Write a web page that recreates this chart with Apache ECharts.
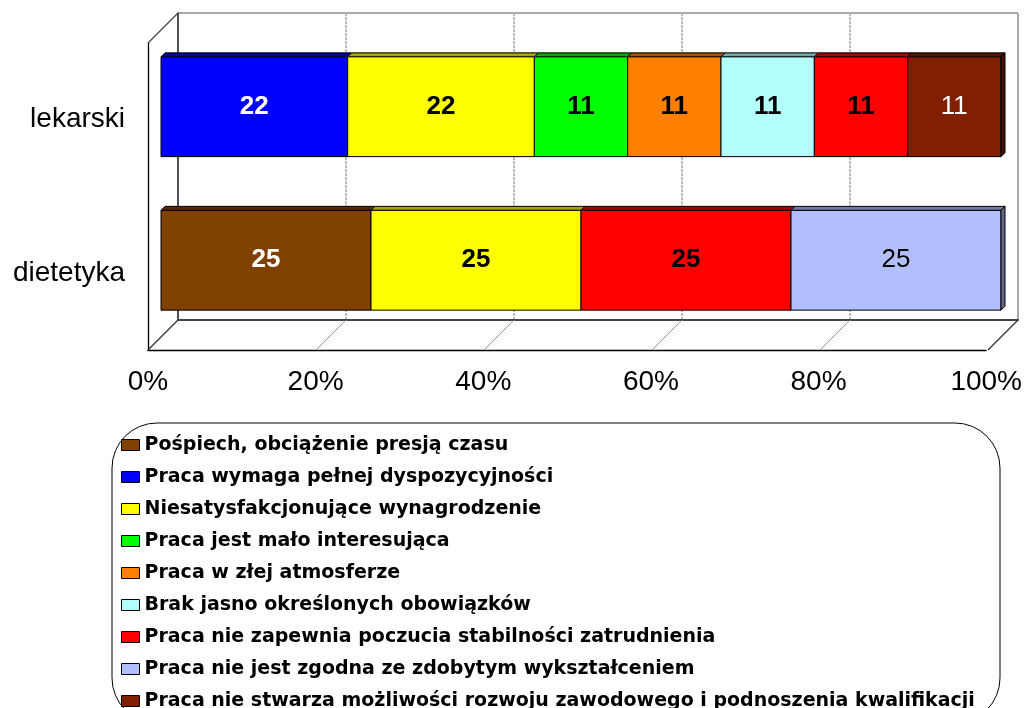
<!DOCTYPE html>
<html>
<head>
<meta charset="utf-8">
<script src="https://cdn.jsdelivr.net/npm/echarts@6/dist/echarts.min.js"></script>
<style>
html, body { margin: 0; padding: 0; background: #fff; }
#main { width: 1025px; height: 708px; }
</style>
</head>
<body>
<div id="main"></div>
<script>
// dane z wykresu
var categories = ['lekarski', 'dietetyka'];
var seriesNames = [
	'Pośpiech, obciążenie presją czasu',
	'Praca wymaga pełnej dyspozycyjności',
	'Niesatysfakcjonujące wynagrodzenie',
	'Praca jest mało interesująca',
	'Praca w złej atmosferze',
	'Brak jasno określonych obowiązków',
	'Praca nie zapewnia poczucia stabilności zatrudnienia',
	'Praca nie jest zgodna ze zdobytym wykształceniem',
	'Praca nie stwarza możliwości rozwoju zawodowego i podnoszenia kwalifikacji'
];
var lekarski = [0, 22, 22, 11, 11, 11, 11, 0, 11];
var dietetyka = [25, 0, 25, 0, 0, 0, 25, 25, 0];
var xTicks = [0, 20, 40, 60, 80, 100];

// wyglad
var colors = ['#804000', '#0000ff', '#ffff00', '#00ff00', '#ff8000', '#b3fffc', '#ff0000', '#b3befc', '#802000'];
var labelColors = ['#fff', '#fff', '#000', '#000', '#000', '#000', '#000', '#000', '#fff'];
var labelWeights = ['bold', 'bold', 'bold', 'bold', 'bold', 'bold', 'bold', 'normal', 'normal'];
var font = 'Liberation Sans, Arial, sans-serif';

// pudelko 3D: przednia plaszczyzna + glebokosc
var box = { left: 148, top: 43, width: 840, height: 307, depth: 30 };
var barShift = 13;

var rows = [lekarski, dietetyka];

function darken(hex, k) {
	var n = parseInt(hex.slice(1), 16);
	var r = Math.round(((n >> 16) & 255) * k);
	var g = Math.round(((n >> 8) & 255) * k);
	var b = Math.round((n & 255) * k);
	return 'rgb(' + r + ',' + g + ',' + b + ')';
}

// procenty skumulowane (wykres 100%)
var series = [];
for (var i = 0; i < seriesNames.length; i++) {
	var data = [];
	for (var j = 0; j < rows.length; j++) {
		var total = 0, before = 0;
		for (var k = 0; k < rows[j].length; k++) {
			total += rows[j][k];
			if (k < i) before += rows[j][k];
		}
		data.push([before / total * 100, (before + rows[j][i]) / total * 100, j, rows[j][i]]);
	}
	series.push({
		name: seriesNames[i],
		type: 'custom',
		xAxisIndex: 2,
		yAxisIndex: 2,
		z: 5,
		itemStyle: { color: colors[i] },
		encode: { x: [0, 1], y: 2 },
		renderItem: renderBar,
		data: data
	});
}

function renderBar(params, api) {
	var val = api.value(3);
	if (!val) return null;
	var cat = api.value(2);
	var p0 = api.coord([api.value(0), cat]);
	var p1 = api.coord([api.value(1), cat]);
	var h = api.size([0, 1])[1] * 0.65;
	var x0 = p0[0], x1 = p1[0];
	var y0 = p0[1] - h / 2, y1 = p0[1] + h / 2;
	var d = 4;
	var si = params.seriesIndex;
	var c = colors[si];
	var children = [
		{
			type: 'polygon',
			shape: { points: [[x0, y0], [x0 + d, y0 - d], [x1 + d, y0 - d], [x1, y0]] },
			style: { fill: darken(c, 0.65), stroke: '#000', lineWidth: 1 }
		},
		{
			type: 'rect',
			shape: { x: x0, y: y0, width: x1 - x0, height: y1 - y0 },
			style: { fill: c, stroke: '#000', lineWidth: 1 }
		}
	];
	if (api.value(1) > 99.9) {
		children.push({
			type: 'polygon',
			shape: { points: [[x1, y0], [x1 + d, y0 - d], [x1 + d, y1 - d], [x1, y1]] },
			style: { fill: darken(c, 0.55), stroke: '#000', lineWidth: 1 }
		});
	}
	children.push({
		type: 'text',
		style: {
			text: String(val),
			x: (x0 + x1) / 2,
			y: (y0 + y1) / 2,
			align: 'center',
			verticalAlign: 'middle',
			fill: labelColors[si],
			font: labelWeights[si] + ' 26px ' + font
		}
	});
	return { type: 'group', children: children };
}

// linie boczne i podloga pudelka
var graphics = [];
var frontBottom = box.top + box.height;
graphics.push({
	type: 'line', z: 1,
	shape: { x1: box.left, y1: box.top, x2: box.left + box.depth, y2: box.top - box.depth },
	style: { stroke: '#444', lineWidth: 1.3 }
});
for (var t = 0; t < xTicks.length; t++) {
	var x = box.left + xTicks[t] / 100 * box.width;
	var edge = t === 0 || t === xTicks.length - 1;
	graphics.push({
		type: 'line', z: 1,
		shape: { x1: x, y1: frontBottom, x2: x + box.depth, y2: frontBottom - box.depth },
		style: { stroke: edge ? '#333' : '#999', lineWidth: edge ? 1.3 : 1 }
	});
}
// ramka legendy
graphics.push({
	type: 'rect', z: 0,
	shape: { x: 112, y: 423, width: 888, height: 300, r: 45 },
	style: { fill: 'none', stroke: '#000', lineWidth: 1 }
});

var option = {
	animation: false,
	backgroundColor: '#fff',
	grid: [
		// sciana tylna
		{ left: box.left + box.depth, top: box.top - box.depth, width: box.width, height: box.height,
			show: true, borderColor: '#555', borderWidth: 1 },
		// plaszczyzna przednia (opisy osi)
		{ left: box.left, top: box.top, width: box.width, height: box.height },
		// slupki
		{ left: box.left + barShift, top: box.top - barShift, width: box.width, height: box.height }
	],
	xAxis: [
		{ gridIndex: 0, type: 'value', min: 0, max: 100, interval: 20,
			axisLine: { show: true, lineStyle: { color: '#444', width: 2 } },
			axisTick: { show: false }, axisLabel: { show: false },
			splitLine: { show: true, lineStyle: { color: '#aaa', type: [3, 1], width: 1.5 } } },
		{ gridIndex: 1, type: 'value', min: 0, max: 100, interval: 20,
			axisLine: { show: true, lineStyle: { color: '#000', width: 1.3 } },
			axisTick: { show: false }, splitLine: { show: false },
			axisLabel: { formatter: '{value}%', fontFamily: font, fontSize: 28, color: '#000', margin: 18 } },
		{ gridIndex: 2, type: 'value', min: 0, max: 100, show: false }
	],
	yAxis: [
		{ gridIndex: 0, type: 'category', data: categories, inverse: true,
			axisLine: { show: true, lineStyle: { color: '#333', width: 1.5 } },
			axisTick: { show: false }, axisLabel: { show: false } },
		{ gridIndex: 1, type: 'category', data: categories, inverse: true,
			axisLine: { show: true, lineStyle: { color: '#000', width: 1.3 } },
			axisTick: { show: false },
			axisLabel: { fontFamily: font, fontSize: 28, color: '#000', margin: 23 } },
		{ gridIndex: 2, type: 'category', data: categories, inverse: true, show: false }
	],
	legend: {
		orient: 'vertical',
		left: 116,
		top: 430,
		height: 400,
		icon: 'rect',
		itemWidth: 18,
		itemHeight: 11,
		itemGap: 12,
		itemStyle: { borderColor: '#000', borderWidth: 1 },
		textStyle: { fontFamily: 'DejaVu Sans, sans-serif', fontWeight: 'bold', fontSize: 19, color: '#000', lineHeight: 20 },
		data: seriesNames
	},
	graphic: graphics,
	series: series
};

var myChart = echarts.init(document.getElementById('main'));
myChart.setOption(option);
</script>
</body>
</html>
